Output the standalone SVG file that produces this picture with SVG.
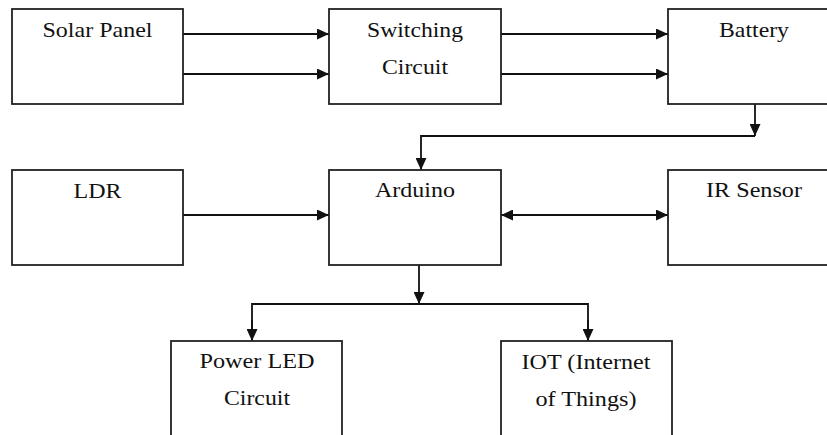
<svg xmlns="http://www.w3.org/2000/svg" width="827" height="435" viewBox="0 0 827 435">
<style>
.box{fill:#fff;stroke:#222;stroke-width:1.8}
.t{font-family:'Times New Roman','Liberation Serif','DejaVu Serif',serif;font-size:21px;fill:#111;text-anchor:middle}
.c{fill:none;stroke:#111;stroke-width:1.8}
</style>
<defs>
<marker id="ah" markerWidth="13" markerHeight="11" refX="12" refY="5.5" orient="auto" markerUnits="userSpaceOnUse">
<path d="M0,0 L12,5.5 L0,11 z" fill="#111"/>
</marker>
<marker id="as" markerWidth="13" markerHeight="11" refX="0" refY="5.5" orient="auto" markerUnits="userSpaceOnUse">
<path d="M12,0 L0,5.5 L12,11 z" fill="#111"/>
</marker>
</defs>
<rect width="827" height="435" fill="#fff"/>
<g id="connectors">
<line class="c" x1="183" y1="34" x2="329" y2="34" marker-end="url(#ah)"/>
<line class="c" x1="183" y1="74" x2="329" y2="74" marker-end="url(#ah)"/>
<line class="c" x1="501" y1="34" x2="668" y2="34" marker-end="url(#ah)"/>
<line class="c" x1="501" y1="74" x2="668" y2="74" marker-end="url(#ah)"/>
<line class="c" x1="755" y1="104" x2="755" y2="136" marker-end="url(#ah)"/>
<polyline class="c" points="755,136 421,136 421,170" marker-end="url(#ah)"/>
<line class="c" x1="183" y1="215" x2="329" y2="215" marker-end="url(#ah)"/>
<line class="c" x1="501" y1="215" x2="668" y2="215" marker-start="url(#as)" marker-end="url(#ah)"/>
<line class="c" x1="419" y1="265" x2="419" y2="304" marker-end="url(#ah)"/>
<polyline class="c" points="252,341 252,304 588,304 588,341"/>
<line class="c" x1="252" y1="320" x2="252" y2="341" marker-end="url(#ah)"/>
<line class="c" x1="588" y1="320" x2="588" y2="341" marker-end="url(#ah)"/>
</g>
<g id="solar-panel">
<rect class="box" x="12" y="9" width="171" height="95"/>
<text class="t" x="97.5" y="37" textLength="110" lengthAdjust="spacingAndGlyphs">Solar Panel</text>
</g>
<g id="switching-circuit">
<rect class="box" x="329" y="9" width="172" height="95"/>
<text class="t" x="415" y="37" textLength="96" lengthAdjust="spacingAndGlyphs">Switching</text>
<text class="t" x="415" y="74" textLength="66" lengthAdjust="spacingAndGlyphs">Circuit</text>
</g>
<g id="battery">
<rect class="box" x="668" y="9" width="172" height="95"/>
<text class="t" x="754" y="37" textLength="70" lengthAdjust="spacingAndGlyphs">Battery</text>
</g>
<g id="ldr">
<rect class="box" x="12" y="170" width="171" height="95"/>
<text class="t" x="97.5" y="198" textLength="48" lengthAdjust="spacingAndGlyphs">LDR</text>
</g>
<g id="arduino">
<rect class="box" x="329" y="170" width="172" height="95"/>
<text class="t" x="415" y="197" textLength="80" lengthAdjust="spacingAndGlyphs">Arduino</text>
</g>
<g id="ir-sensor">
<rect class="box" x="668" y="170" width="172" height="95"/>
<text class="t" x="754" y="197" textLength="96" lengthAdjust="spacingAndGlyphs">IR Sensor</text>
</g>
<g id="power-led-circuit">
<rect class="box" x="171" y="341" width="171" height="110"/>
<text class="t" x="257" y="368" textLength="115" lengthAdjust="spacingAndGlyphs">Power LED</text>
<text class="t" x="257" y="405" textLength="66" lengthAdjust="spacingAndGlyphs">Circuit</text>
</g>
<g id="iot">
<rect class="box" x="501" y="341" width="171" height="110"/>
<text class="t" x="586" y="369" textLength="129" lengthAdjust="spacingAndGlyphs">IOT (Internet</text>
<text class="t" x="586" y="406" textLength="101" lengthAdjust="spacingAndGlyphs">of Things)</text>
</g>
</svg>
